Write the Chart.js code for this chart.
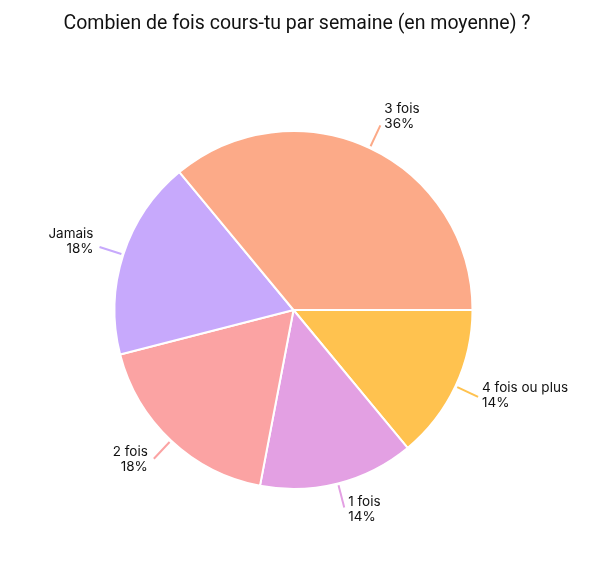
<!DOCTYPE html>
<html>
<head>
<meta charset="utf-8">
<script src="https://cdn.jsdelivr.net/npm/chart.js@4"></script>
<style>
  html, body { margin: 0; padding: 0; background: #fff; }
  #wrap { width: 604px; height: 571px; }
</style>
</head>
<body>
<div id="wrap"><canvas id="pie"></canvas></div>
<script>
// slices in clockwise order, starting at 3 o'clock
const categories = ["4 fois ou plus", "1 fois", "2 fois", "Jamais", "3 fois"];
const shares = [14, 14, 18, 18, 36];
const sliceColors = ["#FFC24F", "#E3A0E3", "#FBA3A3", "#C7A9FC", "#FCAA88"];

const titleText = "Combien de fois cours-tu par semaine (en moyenne) ?";

// title drawn by hand: the built-in one gets squeezed by the side padding
const pageTitle = {
  id: "pageTitle",
  afterDraw(chart) {
    const ctx = chart.ctx;
    ctx.save();
    ctx.font = "19.5px Roboto, sans-serif";
    ctx.fillStyle = "#111";
    ctx.textAlign = "center";
    ctx.textBaseline = "middle";
    ctx.fillText(titleText, chart.width / 2 - 5, 24);
    ctx.restore();
  }
};

// outside labels with a short leader line
const outsideLabels = {
  id: "outsideLabels",
  afterDatasetsDraw(chart) {
    const ctx = chart.ctx;
    const meta = chart.getDatasetMeta(0);
    const total = shares.reduce((s, v) => s + v, 0);
    ctx.save();
    ctx.font = "13.5px Inter, 'Noto Sans', sans-serif";
    ctx.fillStyle = "#111";
    ctx.textBaseline = "middle";
    meta.data.forEach((arc, i) => {
      const p = arc.getProps(["x", "y", "startAngle", "endAngle", "outerRadius"], true);
      const mid = (p.startAngle + p.endAngle) / 2;
      const c = Math.cos(mid), s = Math.sin(mid);
      const x1 = p.x + c * (p.outerRadius + 2), y1 = p.y + s * (p.outerRadius + 2);
      const x2 = p.x + c * (p.outerRadius + 25), y2 = p.y + s * (p.outerRadius + 25);
      ctx.strokeStyle = sliceColors[i];
      ctx.lineWidth = 2;
      ctx.beginPath();
      ctx.moveTo(x1, y1);
      ctx.lineTo(x2, y2);
      ctx.stroke();

      const right = c >= 0;
      ctx.textAlign = right ? "left" : "right";
      const tx = right ? x2 + 4 : x2 - 6;
      const cy = y2 - 4 + 6 * s;
      const pct = Math.round(shares[i] / total * 100) + "%";
      ctx.fillText(categories[i], tx, cy - 7);
      ctx.fillText(pct, tx, cy + 7.5);
    });
    ctx.restore();
  }
};

new Chart(document.getElementById("pie"), {
  type: "pie",
  data: {
    labels: categories,
    datasets: [{
      data: shares,
      backgroundColor: sliceColors,
      borderColor: "#fff",
      borderWidth: 2
    }]
  },
  options: {
    responsive: true,
    maintainAspectRatio: false,
    animation: false,
    rotation: 90,
    layout: { padding: { left: 104, right: 121, top: 130, bottom: 81 } },
    plugins: {
      legend: { display: false },
      tooltip: { enabled: false },
      title: { display: false }
    }
  },
  plugins: [outsideLabels, pageTitle]
});
</script>
</body>
</html>
